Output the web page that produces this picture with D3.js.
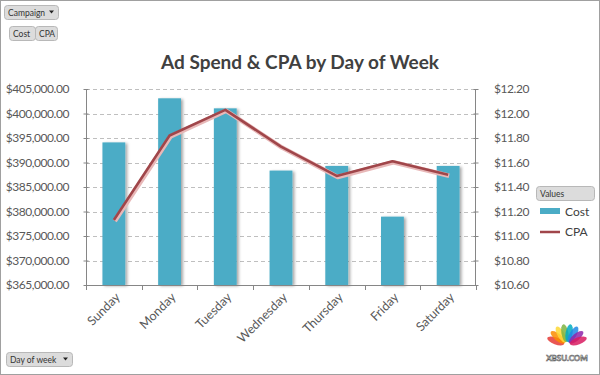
<!DOCTYPE html>
<html><head><meta charset="utf-8">
<script src="https://cdn.jsdelivr.net/npm/d3@7"></script>
<style>body{margin:0;background:#fff}svg{display:block;font-family:Lato,"Open Sans",sans-serif}</style>
</head><body><svg id="c" width="600" height="375"></svg>
<script>
const days = ["Sunday","Monday","Tuesday","Wednesday","Thursday","Friday","Saturday"];
const cost = [394100, 403100, 401050, 388350, 389300, 378950, 389300];
const cpa = [11.13, 11.82, 12.03, 11.73, 11.49, 11.61, 11.50];
const costTicks = [365000,370000,375000,380000,385000,390000,395000,400000,405000];
const cpaTicks = [10.6,10.8,11.0,11.2,11.4,11.6,11.8,12.0,12.2];
const title = "Ad Spend & CPA by Day of Week";

const svg = d3.select("#c");
const L = 86, R = 476, T = 89, B = 285;
svg.append("rect").attr("x",0.5).attr("y",0.5).attr("width",599).attr("height",374).attr("fill","#fff").attr("stroke","#a0a0a0");

const x = d3.scaleBand().domain(days).range([L,R]).paddingInner(0.59).paddingOuter(0.295);
const yL = d3.scaleLinear().domain([365000,405000]).range([B,T]);
const yR = d3.scaleLinear().domain([10.6,12.2]).range([B,T]);

// gridlines
svg.append("g").selectAll("line").data(costTicks.slice(1)).join("line")
  .attr("x1",L).attr("x2",R).attr("y1",d=>Math.round(yL(d))+0.5).attr("y2",d=>Math.round(yL(d))+0.5)
  .attr("stroke","#bfbfbf").attr("stroke-dasharray","4,3");

// bars with shadow
const defs = svg.append("defs");
const f = defs.append("filter").attr("id","sh").attr("x","-20%").attr("y","-20%").attr("width","150%").attr("height","150%");
f.append("feDropShadow").attr("dx",2).attr("dy",1).attr("stdDeviation",1.5).attr("flood-color","#000").attr("flood-opacity",0.35);
svg.append("g").selectAll("rect").data(days).join("rect")
  .attr("x",d=>x(d)).attr("width",x.bandwidth())
  .attr("y",(d,i)=>yL(cost[i])).attr("height",(d,i)=>B-yL(cost[i]))
  .attr("fill","#4bacc6").attr("filter","url(#sh)");

// axes
const fmtL = d=>"$"+d3.format(",.2f")(d);
const fmtR = d=>"$"+d3.format(".2f")(d);
const gl = svg.append("g").attr("transform",`translate(${L},0)`)
  .call(d3.axisLeft(yL).tickValues(costTicks).tickFormat(fmtL).tickSize(5).tickPadding(12));
const gr = svg.append("g").attr("transform",`translate(${R},0)`)
  .call(d3.axisRight(yR).tickValues(cpaTicks).tickFormat(fmtR).tickSize(5).tickPadding(13));
const gx = svg.append("g").attr("transform",`translate(0,${B})`)
  .call(d3.axisBottom(x).tickSize(0).tickPadding(0));
[gl,gr].forEach(g=>{
  g.selectAll("line").attr("stroke","#868686").attr("transform", g===gl?"translate(2.5,0)":"translate(-2.5,0)");
  g.select(".domain").attr("stroke","#868686");
  g.selectAll("text").attr("fill","#595959").style("font-size","12px").style("letter-spacing","-0.45px").style("font-family","Lato,sans-serif");
});
gl.select(".domain").attr("d",`M0.5,${T}V${B}`);
gr.select(".domain").attr("d",`M-0.5,${T}V${B}`);
gx.select(".domain").attr("stroke","#868686");
gx.select(".domain").attr("d",`M${L},0.5H${R}`);
// category boundary ticks
const bounds = days.map(d=>x(d)-x.step()*0.295).concat([R]);
svg.append("g").selectAll("line").data(bounds).join("line")
  .attr("x1",d=>Math.round(d)+0.5).attr("x2",d=>Math.round(d)+0.5).attr("y1",B).attr("y2",B+5).attr("stroke","#868686");
gx.selectAll("text").attr("fill","#595959").style("font-size","12.5px").style("font-family","Lato,sans-serif")
  .attr("text-anchor","end").attr("dy","0").attr("y",0)
  .attr("transform","translate(7,13) rotate(-45)");

// CPA line
const line = d3.line().x((d,i)=>x(days[i])+x.bandwidth()/2).y(d=>yR(d));
svg.append("path").datum(cpa).attr("d",line).attr("fill","none").attr("stroke","#e8b8b8").attr("stroke-width",4.5).attr("stroke-linejoin","round").attr("transform","translate(1,1)");
svg.append("path").datum(cpa).attr("d",line).attr("fill","none").attr("stroke","#a0464a").attr("stroke-width",2.6).attr("stroke-linejoin","round");

// title
svg.append("text").attr("x",300).attr("y",69).attr("text-anchor","middle")
  .style("font-size","19px").style("font-weight","bold").attr("fill","#404040").text(title);

// buttons
function btn(x0,y0,w,h,label,arrow){
  const g = svg.append("g");
  g.append("rect").attr("x",x0+0.5).attr("y",y0+0.5).attr("width",w).attr("height",h).attr("rx",3)
    .attr("fill","#dcdcdc").attr("stroke","#b8b8b8");
  g.append("text").attr("x",x0+4).attr("y",y0+h/2+3.5).style("font-size","8.5px").attr("fill","#333").text(label);
  if(arrow){
    g.append("path").attr("d",`M${x0+w-9},${y0+h/2-1.5}h5l-2.5,3z`).attr("fill","#222");
  }
}
btn(4,5,54,14,"Campaign",true);
btn(9,26,26,14,"Cost",false);
btn(35,26,22,14,"CPA",false);
btn(6,352,66,14,"Day of week",true);
btn(536,186,58,14,"Values",false);

// legend
svg.append("rect").attr("x",540).attr("y",208).attr("width",20).attr("height",6).attr("fill","#4bacc6");
svg.append("text").attr("x",565).attr("y",216).style("font-size","12px").attr("fill","#404040").text("Cost");
svg.append("line").attr("x1",540).attr("x2",560).attr("y1",232).attr("y2",232).attr("stroke","#a0464a").attr("stroke-width",2.5);
svg.append("text").attr("x",565).attr("y",236).style("font-size","12px").attr("fill","#404040").text("CPA");

// watermark
const wm = svg.append("g").attr("transform","translate(567,345)");
const cols = ["#e53935","#fb8c00","#fdd835","#7cb342","#00acc1","#1e88e5","#8e24aa","#d81b60"];
cols.forEach((c,i)=>{
  const a = -160 + i*20;
  wm.append("ellipse").attr("cx",0).attr("cy",-12).attr("rx",3.5).attr("ry",9).attr("fill",c).attr("opacity",0.85)
    .attr("transform",`rotate(${a+90}) translate(0,0)`);
});
wm.append("text").attr("x",0).attr("y",16).attr("text-anchor","middle").style("font-size","8px").style("font-weight","bold")
  .attr("fill","#fff").attr("stroke","#555").attr("stroke-width",0.6).text("XBSU.COM");
</script></body></html>
